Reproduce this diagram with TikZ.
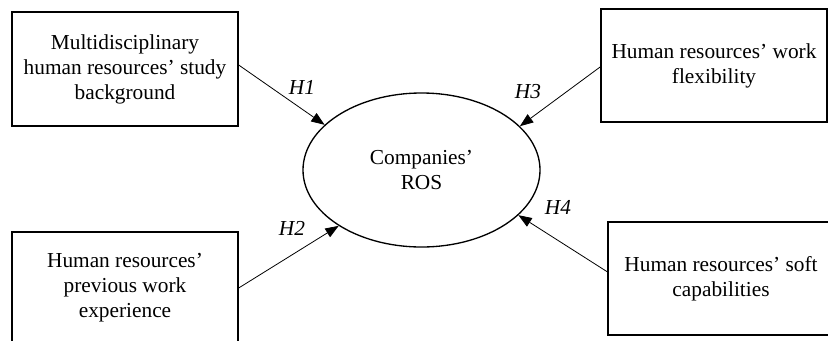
\documentclass[tikz,border=0pt]{standalone}
\usepackage{fontspec}
\setmainfont{Liberation Serif}
\usetikzlibrary{shapes.geometric,arrows.meta}
\begin{document}
\begin{tikzpicture}[x=0.75pt,y=-0.75pt,
  every node/.style={font=\fontsize{16}{18.75}\selectfont},
  factor/.style={draw,line width=1pt,rectangle,align=center,
    minimum width=169.5pt,inner sep=0pt},
  outcome/.style={draw,line width=1pt,ellipse,align=center,
    minimum width=177.75pt,minimum height=115.5pt,inner sep=0pt},
  hyp/.style={font=\fontsize{16}{18.75}\selectfont\itshape},
  arr/.style={-{Triangle[length=10pt,width=7.5pt]},line width=0.6pt}]
  \clip (0,0) rectangle (828,340);

  % explanatory factors
  \node[factor,minimum height=85.5pt] (b1) at (125,69)
    {Multidisciplinary\\human resources’ study\\background};
  \node[factor,minimum height=84.75pt] (b3) at (714,65.5)
    {Human resources’ work\\flexibility};
  \node[factor,minimum height=84pt] (b2) at (125,288)
    {Human resources’\\previous work\\experience};
  \node[factor,minimum height=84.75pt] (b4) at (721,278.5)
    {Human resources’ soft\\capabilities};

  % dependent variable
  \node[outcome] (ros) at (421.5,170) {Companies’\\ROS};

  % hypotheses
  \draw[arr] ([yshift=3pt]b1.east) -- (ros.155.6);
  \draw[arr] ([yshift=-1pt]b3.west) -- (ros.24.4);
  \draw[arr] (b2.east) -- (ros.214);
  \draw[arr] ([yshift=5pt]b4.west) -- (ros.335.5);

  \node[hyp] (h1) at (302,87) {H1};
  \node[hyp] (h3) at (528,92) {H3};
  \node[hyp] (h2) at (292,228) {H2};
  \node[hyp] (h4) at (558,207) {H4};
\end{tikzpicture}
\end{document}
